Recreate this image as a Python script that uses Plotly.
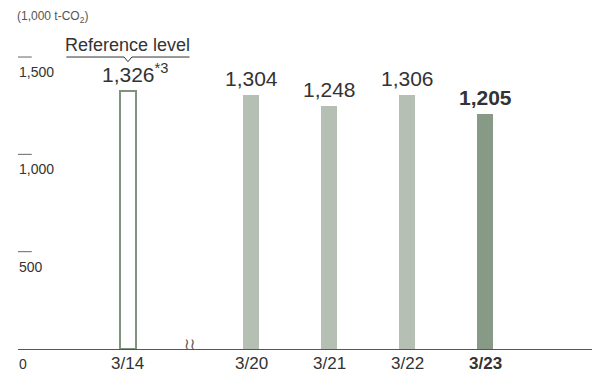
import plotly.graph_objects as go

# ---- data ----
categories = ["3/14", "3/20", "3/21", "3/22", "3/23"]
emissions = [1326, 1304, 1248, 1306, 1205]
value_labels = ["1,326", "1,304", "1,248", "1,306", "1,205"]
y_ticks = [0, 500, 1000, 1500]
y_tick_labels = ["0", "500", "1,000", "1,500"]
unit_label = "(1,000 t-CO<sub>2</sub>)"
reference_label = "Reference level"

# ---- styling ----
FONT = "Liberation Sans, Arial, Helvetica, sans-serif"
TEXT = "#333333"
GAP = 0.58  # extra spacing for the axis break after the reference year
positions = [i + (GAP if i > 0 else 0) for i in range(len(categories))]

fill_colors = ["#ffffff", "#b6bfb4", "#b6bfb4", "#b6bfb4", "#879a85"]
line_colors = ["#7f947d", "#b6bfb4", "#b6bfb4", "#b6bfb4", "#879a85"]
line_widths = [2, 0, 0, 0, 0]

fig = go.Figure()
fig.add_trace(go.Bar(
    x=positions, y=emissions, width=0.2,
    marker=dict(color=fill_colors, line=dict(color=line_colors, width=line_widths)),
    hoverinfo="skip", showlegend=False,
))

annotations = []
# value labels
for i, (p, v, lab) in enumerate(zip(positions, emissions, value_labels)):
    if i == 0:
        txt = lab + "<sup>*3</sup>"
        xs = 7
    elif i == len(categories) - 1:
        txt = f"<b>{lab}</b>"
        xs = 0
    else:
        txt = lab
        xs = 0
    annotations.append(dict(x=p, y=v, xref="x", yref="y", text=txt, showarrow=False,
                            xanchor="center", yanchor="bottom", yshift=3, xshift=xs,
                            font=dict(family=FONT, size=21, color=TEXT)))

# category labels under the axis
for i, (p, c) in enumerate(zip(positions, categories)):
    txt = f"<b>{c}</b>" if i == len(categories) - 1 else c
    annotations.append(dict(x=p, y=0, xref="x", yref="y", text=txt, showarrow=False,
                            xanchor="center", yanchor="middle", yshift=-14,
                            font=dict(family=FONT, size=17, color=TEXT)))

# y tick labels (placed under small dashes)
shapes = []
for t, lab in zip(y_ticks, y_tick_labels):
    annotations.append(dict(x=0, y=t, xref="paper", yref="y", text=lab, showarrow=False,
                            xanchor="left", yanchor="top", yshift=-5, xshift=-1,
                            font=dict(family=FONT, size=14, color=TEXT)))
    if t > 0:
        shapes.append(dict(type="line", xref="paper", yref="y", x0=0, x1=0.024, y0=t, y1=t,
                           line=dict(color="#666666", width=1)))

# unit label
annotations.append(dict(x=0, y=1, xref="paper", yref="paper", text=unit_label, showarrow=False,
                        xanchor="left", yanchor="top", yshift=-7, xshift=-3,
                        font=dict(family=FONT, size=12, color="#555555")))

# reference level bracket
p0 = positions[0]
half = 0.79
top = y_ticks[-1]
shapes.append(dict(type="path", xref="x", yref="y",
                   path=f"M {p0-half},{top} L {p0-0.05},{top} L {p0},{top-24} L {p0+0.05},{top} L {p0+half},{top}",
                   line=dict(color=TEXT, width=1)))
annotations.append(dict(x=p0, y=top, xref="x", yref="y", text=reference_label, showarrow=False,
                        xanchor="center", yanchor="bottom", yshift=0,
                        font=dict(family=FONT, size=18, color=TEXT)))

# axis break mark
annotations.append(dict(x=(positions[0] + positions[1]) / 2, y=0, xref="x", yref="y",
                        text="≀≀", showarrow=False, xanchor="center", yanchor="middle", yshift=5,
                        font=dict(family="DejaVu Sans", size=15, color="#555555")))

fig.update_layout(
    width=592, height=373,
    margin=dict(l=18, r=0, t=0, b=24),
    paper_bgcolor="white", plot_bgcolor="white",
    annotations=annotations, shapes=shapes,
    xaxis=dict(range=[-1.41, 5.95], showticklabels=False,
               showgrid=False, zeroline=False, showline=True, linecolor="#555555", linewidth=1,
               ticks="", fixedrange=True, automargin=False),
    yaxis=dict(range=[0, 1793], visible=False, showgrid=False, zeroline=False, fixedrange=True),
    bargap=0,
)

fig.write_html("out.html", config={"displayModeBar": False},
               post_script="document.body.style.margin='0';")
